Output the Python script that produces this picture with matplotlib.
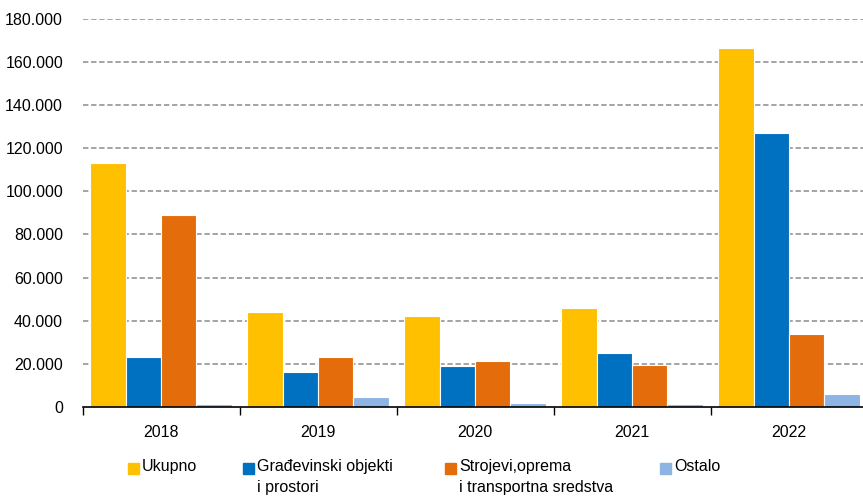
import numpy as np
import matplotlib.pyplot as plt
from matplotlib.patches import Rectangle
from matplotlib.ticker import FuncFormatter, FixedLocator

plt.rcParams['font.family'] = ['Liberation Sans', 'DejaVu Sans']

# Podaci
godine = ['2018', '2019', '2020', '2021', '2022']
ukupno = [113300, 43800, 42200, 45800, 166500]
gradjevinski = [23200, 16200, 19000, 25200, 127100]
strojevi = [89100, 23200, 21300, 19500, 34000]
ostalo = [1400, 4600, 1900, 1500, 6000]

serije = [ukupno, gradjevinski, strojevi, ostalo]
oznake = ['Ukupno', 'Građevinski objekti\ni prostori',
          'Strojevi,oprema\ni transportna sredstva', 'Ostalo']
boje = ['#FFC000', '#0070C0', '#E46C0A', '#8EB4E3']

fig = plt.figure(figsize=(8.63, 5.0), dpi=100)
ax = fig.add_axes([82.5 / 863, 1 - 407 / 500, 785 / 863, (407 - 18.6) / 500])

x = np.arange(len(godine))
sirina = 0.225
for i, (vrijednosti, boja) in enumerate(zip(serije, boje)):
    ax.bar(x + (i - 1.5) * sirina, vrijednosti, sirina, color=boja,
           edgecolor='white', linewidth=0.8, zorder=3)

ax.set_xlim(-0.5, len(godine) - 0.5)
ax.set_ylim(0, 180000)
ax.set_yticks(np.arange(0, 180001, 20000))
ax.yaxis.set_major_formatter(FuncFormatter(lambda v, p: f'{int(v):,}'.replace(',', '.')))
ax.tick_params(axis='y', length=0, pad=14, labelsize=11.5, colors='black')

ax.set_xticks(x)
ax.set_xticklabels(godine)
ax.xaxis.set_minor_locator(FixedLocator(np.arange(-0.5, len(godine), 1.0)))
ax.tick_params(axis='x', which='major', length=0, pad=13, labelsize=11.5)
ax.tick_params(axis='x', which='minor', length=6, width=1, color='black')

for s in ['left', 'top', 'right']:
    ax.spines[s].set_visible(False)
ax.spines['bottom'].set_linewidth(1.2)
ax.spines['bottom'].set_zorder(4)

for y in np.arange(20000, 180001, 20000):
    ax.axhline(y, color='#8c8c8c', linewidth=1.1, linestyle=(0, (3.5, 1.8)), zorder=1)

# Legenda
leg_x = [128, 243, 445, 660]
for lx, oznaka, boja in zip(leg_x, oznake, boje):
    fig.patches.append(Rectangle((lx / 863, 1 - 474 / 500), 11 / 863, 11 / 500,
                                 transform=fig.transFigure, color=boja))
    fig.text((lx + 14) / 863, 1 - 459 / 500, oznaka, fontsize=11.5,
             va='top', ha='left', linespacing=1.5,
             transform=fig.transFigure)

plt.savefig('out.png', dpi=100)
